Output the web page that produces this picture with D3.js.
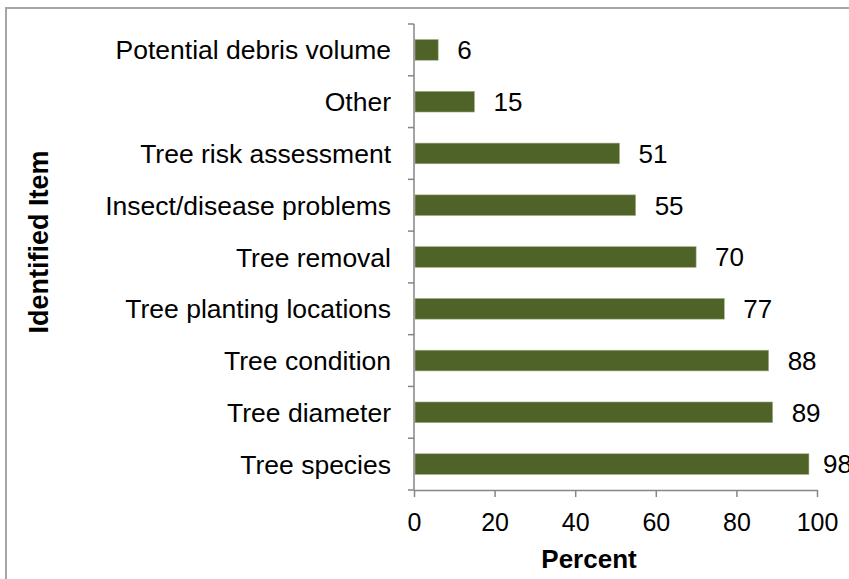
<!DOCTYPE html>
<html>
<head>
<meta charset="utf-8">
<script src="https://cdn.jsdelivr.net/npm/d3@7"></script>
<style>
  html, body { margin: 0; padding: 0; background: #fff; }
  svg { display: block; font-family: Arial, "Liberation Sans", sans-serif; }
</style>
</head>
<body>
<svg id="chart" width="849" height="579"></svg>
<script>
// Items identified in tree inventories (percent of respondents)
const categories = [
  "Potential debris volume",
  "Other",
  "Tree risk assessment",
  "Insect/disease problems",
  "Tree removal",
  "Tree planting locations",
  "Tree condition",
  "Tree diameter",
  "Tree species"
];
const percents = [6, 15, 51, 55, 70, 77, 88, 89, 98];
const xTicks = [0, 20, 40, 60, 80, 100];

const svg = d3.select("#chart");
const W = 849, H = 579;
const plot = { left: 414, right: 817, top: 24, bottom: 490 };

// outer frame (runs off the right and bottom edges)
svg.append("rect")
  .attr("x", 6).attr("y", 8)
  .attr("width", W + 20).attr("height", H + 20)
  .attr("fill", "#fff")
  .attr("stroke", "#a6a6a6")
  .attr("stroke-width", 2);

const data = categories.map((c, i) => ({ cat: c, val: percents[i] }));

const x = d3.scaleLinear().domain([0, 100]).range([plot.left, plot.right]);
const y = d3.scaleBand().domain(categories).range([plot.top, plot.bottom])
  .paddingInner(0.6).paddingOuter(0.3);

const axisColor = "#868686";

// bars
svg.append("g").selectAll("rect")
  .data(data)
  .join("rect")
  .attr("x", x(0) + 1)
  .attr("y", d => y(d.cat))
  .attr("width", d => x(d.val) - x(0) - 1)
  .attr("height", y.bandwidth())
  .attr("fill", "#4f6228")
  .attr("stroke", "#a3b387")
  .attr("stroke-width", 0.6);

// value labels (the last one is held inside the plot's right edge)
svg.append("g").selectAll("text")
  .data(data)
  .join("text")
  .attr("x", d => Math.min(x(d.val) + 19, 823))
  .attr("y", d => y(d.cat) + y.bandwidth() / 2)
  .attr("dy", "0.36em")
  .attr("font-size", 26)
  .attr("fill", "#000")
  .text(d => d.val);

// y axis: line with ticks at band boundaries
const yAxis = svg.append("g");
yAxis.append("line")
  .attr("x1", plot.left).attr("x2", plot.left)
  .attr("y1", plot.top).attr("y2", plot.bottom)
  .attr("stroke", axisColor).attr("stroke-width", 1.5);
const boundaries = d3.range(categories.length + 1).map(i => plot.top + i * (plot.bottom - plot.top) / categories.length);
yAxis.selectAll("line.tick")
  .data(boundaries)
  .join("line")
  .attr("class", "tick")
  .attr("x1", plot.left - 6).attr("x2", plot.left)
  .attr("y1", d => d).attr("y2", d => d)
  .attr("stroke", axisColor).attr("stroke-width", 1.5);
yAxis.selectAll("text")
  .data(categories)
  .join("text")
  .attr("x", plot.left - 23)
  .attr("y", d => y(d) + y.bandwidth() / 2)
  .attr("dy", "0.36em")
  .attr("text-anchor", "end")
  .attr("font-size", 26.5)
  .attr("fill", "#000")
  .text(d => d);

// x axis
const xAxis = svg.append("g")
  .attr("transform", `translate(0,${plot.bottom})`)
  .call(d3.axisBottom(x).tickValues(xTicks).tickSize(7).tickSizeOuter(0).tickPadding(16));
xAxis.select(".domain").attr("stroke", axisColor).attr("stroke-width", 1.5);
xAxis.selectAll(".tick line").attr("stroke", axisColor).attr("stroke-width", 1.5);
xAxis.selectAll(".tick text")
  .attr("font-size", 25)
  .attr("font-family", "Arial, 'Liberation Sans', sans-serif")
  .attr("fill", "#000");

// axis titles
svg.append("text")
  .attr("x", 589)
  .attr("y", 568)
  .attr("text-anchor", "middle")
  .attr("font-size", 26)
  .attr("font-weight", "bold")
  .text("Percent");

svg.append("text")
  .attr("transform", "translate(48,242) rotate(-90)")
  .attr("text-anchor", "middle")
  .attr("font-size", 27)
  .attr("font-weight", "bold")
  .text("Identified Item");
</script>
</body>
</html>
